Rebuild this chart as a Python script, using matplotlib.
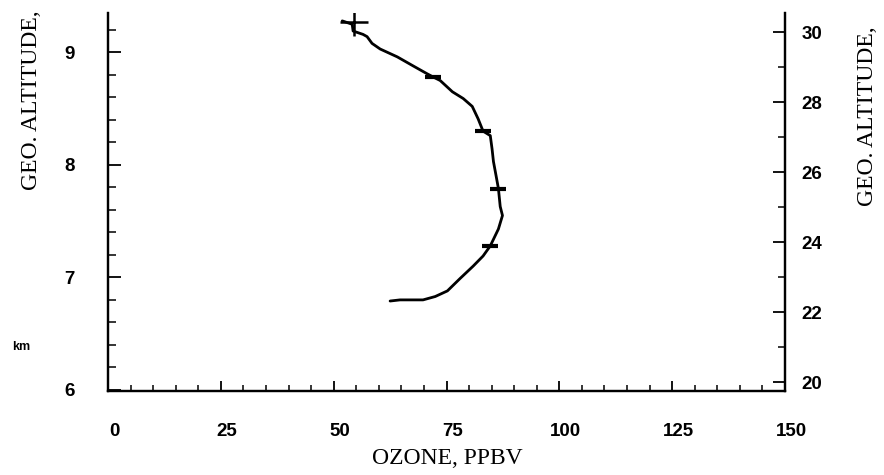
import matplotlib
matplotlib.use("Agg")
import matplotlib.pyplot as plt
from matplotlib.ticker import MultipleLocator
import matplotlib.transforms as mtransforms

# Ozone profile: mixing ratio (ppbv) against altitude (left scale, km)
ozone_ppbv = [62.5, 64.7, 69.8, 72.5, 75.2, 78.0, 80.9, 83.1, 84.7, 86.5,
              87.4, 86.9, 86.5, 86.0, 85.4, 85.1, 84.7, 83.1, 82.0, 80.7,
              78.7, 76.3, 73.6, 72.1, 70.7, 67.6, 64.1, 60.3, 58.5, 57.4,
              56.5, 54.3, 54.1, 51.9]
altitude_km = [6.79, 6.80, 6.80, 6.83, 6.88, 6.99, 7.10, 7.19, 7.28, 7.43,
               7.55, 7.63, 7.79, 7.90, 8.03, 8.14, 8.26, 8.30, 8.41, 8.52,
               8.59, 8.65, 8.75, 8.78, 8.81, 8.88, 8.96, 9.03, 9.08, 9.14,
               9.16, 9.19, 9.25, 9.28]

# short bars marking the averaged levels, plus the start cross at the top
mark_ppbv = [84.7, 86.5, 83.1, 72.1]
mark_km = [7.28, 7.79, 8.30, 8.78]
start_ppbv = [54.5]
start_km = [9.27]

x_ticks = [0, 25, 50, 75, 100, 125, 150]
left_ticks = [6, 7, 8, 9]
right_ticks = [20, 22, 24, 26, 28, 30]

num_font = dict(family="Liberation Sans", weight="bold", size=13.5)
label_font = dict(family="Liberation Serif", size=17)

fig = plt.figure(figsize=(8.84, 4.75), dpi=100)
ax = fig.add_axes([0.1222, 0.1768, 0.7658, 0.7958])
ax2 = ax.twinx()

ax.plot(ozone_ppbv, altitude_km, color="black", lw=2.0,
        solid_joinstyle="round", solid_capstyle="round")
ax.plot(mark_ppbv, mark_km, ls="none", marker="_", ms=11, mew=3, color="black")
ax.plot(start_ppbv, start_km, ls="none", marker="+", ms=20, mew=1.8, color="black")

ax.set_xlim(0, 150)
ax.set_ylim(5.99, 9.35)
ax2.set_ylim(19.75, 30.55)

ax.xaxis.set_minor_locator(MultipleLocator(5))
ax.yaxis.set_minor_locator(MultipleLocator(0.2))
ax2.yaxis.set_minor_locator(MultipleLocator(1))

ax.set_xticks(x_ticks)
ax.set_yticks(left_ticks)
ax2.set_yticks(right_ticks)

for a in (ax, ax2):
    a.spines["top"].set_visible(False)
    for s in a.spines.values():
        s.set_linewidth(1.6)

ax.tick_params(axis="x", which="major", direction="in", length=7, width=1.3, pad=23)
ax.tick_params(axis="x", which="minor", direction="in", length=4, width=1.1)
ax.tick_params(axis="y", which="major", direction="in", length=9, width=1.3, pad=24)
ax.tick_params(axis="y", which="minor", direction="in", length=6, width=1.1)
ax2.tick_params(axis="y", which="major", direction="in", length=9, width=1.3, pad=12)
ax2.tick_params(axis="y", which="minor", direction="in", length=5, width=1.1)

# tick numbers sit a little right of their ticks on the ozone axis
shift = mtransforms.ScaledTranslation(6 / 100, 0, fig.dpi_scale_trans)
for lbl in ax.get_xticklabels():
    lbl.set(**num_font)
    lbl.set_transform(lbl.get_transform() + shift)
for lbl in ax.get_yticklabels() + ax2.get_yticklabels():
    lbl.set(**num_font)

fig.text(0.506, 0.012, "OZONE, PPBV", ha="center", va="bottom", **label_font)
fig.text(0.036, 0.79, "GEO. ALTITUDE,", rotation=90, ha="center", va="center", **label_font)
fig.text(0.981, 0.755, "GEO. ALTITUDE,", rotation=90, ha="center", va="center", **label_font)
fig.text(0.014, 0.27, "km", ha="left", va="center", family="Liberation Sans",
         weight="bold", size=9)

fig.savefig("out.png", dpi=100)
